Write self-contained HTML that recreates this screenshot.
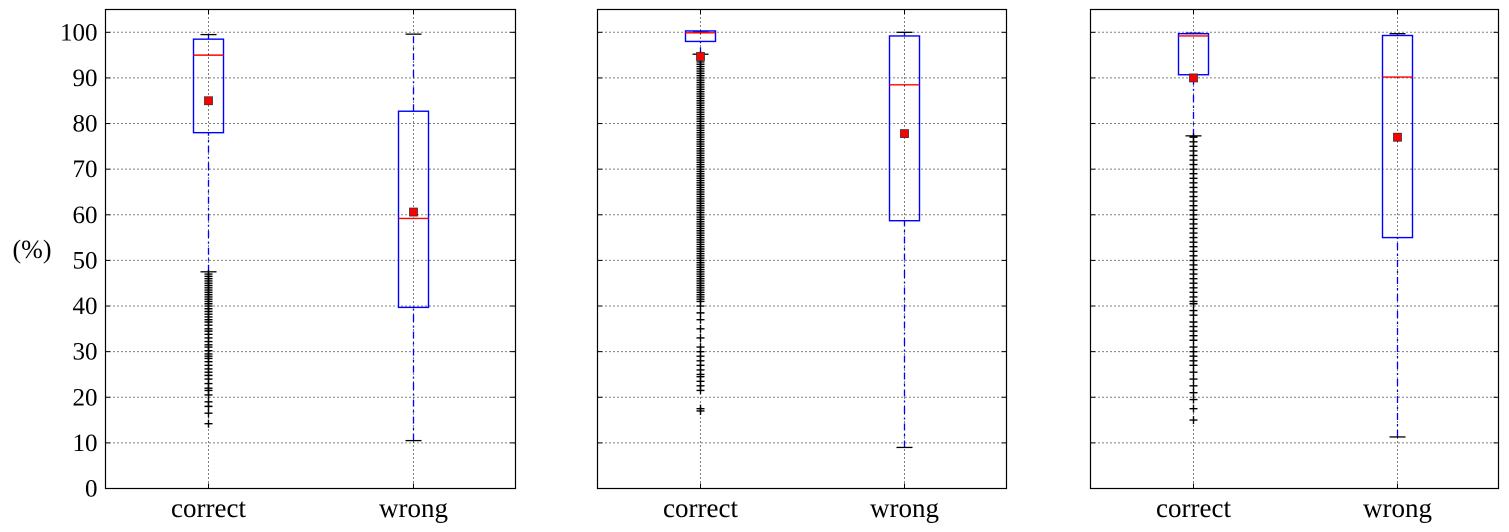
<!DOCTYPE html>
<html><head><meta charset="utf-8"><style>
html,body{margin:0;padding:0;background:#fff;}
svg{display:block;font-family:"Liberation Serif",serif;}
</style></head><body>
<svg id="chart" width="1509" height="532" viewBox="0 0 1509 532" xmlns="http://www.w3.org/2000/svg"></svg>
<script>
const categories = ["correct","wrong"];
const yTicks = [0,10,20,30,40,50,60,70,80,90,100];
// per panel: [whiskerLow, q1, median, q3, whiskerHigh, mean]
const panel1Stats = [[47.5,78,95,98.5,99.5,85],[10.5,39.7,59.2,82.7,99.6,60.6]];
const panel2Stats = [[95.2,98,99.9,100.3,100,94.7],[9,58.7,88.5,99.2,100,77.8]];
const panel3Stats = [[77.3,90.7,99.2,99.7,99.8,90],[11.3,55,90.2,99.3,99.7,77]];
const panel1Outliers = [14.2,16.5,18,19,20.5,21.5,22,23,24,24.8,25.5,26.2,27,27.8,28.5,29,29.5,30.2,31,31.5,32.2,33,33.8,34.5,35,35.8,36.5,37,37.6,38.2,38.8,39.4,40,40.5,41,41.5,42,42.5,43,43.5,44,44.5,45,45.5,46,46.5,47];
const panel2Outliers = [17,17.5,21.5,22.5,23.5,24.5,25,26,27,28,29,30,31,33,35,37,38.5,40,41,41.5,42,42.5,43,43.5,44,44.5,45,45.5,46,46.5,47,47.5,48,48.5,49,49.5,50,50.5,51,51.5,52,52.5,53,53.5,54,54.5,55,55.5,56,56.5,57,57.5,58,58.5,59,59.5,60,60.5,61,61.5,62,62.5,63,63.5,64,64.5,65,65.5,66,66.5,67,67.5,68,68.5,69,69.5,70,70.5,71,71.5,72,72.5,73,73.5,74,74.5,75,75.5,76,76.5,77,77.5,78,78.5,79,79.5,80,80.5,81,81.5,82,82.5,83,83.5,84,84.5,85,85.5,86,86.5,87,87.5,88,88.5,89,89.5,90,90.5,91,91.5,92,92.5,93,93.5,94,94.5,95];
const panel3Outliers = [15,17.5,19.5,21,22.5,24,25.5,27,28,29,30,31,32.5,33.5,34.5,35.5,36.5,38,39,40.5,41,42,43,44,45,46,47,48,49,50,51,52,53,54,55,56,57,58,59,60,61,62,63,64,65,66,67,68,69,70,71,72,73,74,75,76,77];

const NS="http://www.w3.org/2000/svg";
const svg=document.getElementById('chart');
function mk(tag,attrs,parent){const e=document.createElementNS(NS,tag);for(const k in attrs)e.setAttribute(k,attrs[k]);(parent||svg).appendChild(e);return e;}
const plotTop=9.5, plotBottom=488.5, ymax=105;
function y(v){return plotBottom-(v/ymax)*(plotBottom-plotTop);}
const panels=[{x0:105.5,x1:515.5,stats:panel1Stats,out:panel1Outliers},
{x0:597.5,x1:1006.5,stats:panel2Stats,out:panel2Outliers},
{x0:1090.5,x1:1498.5,stats:panel3Stats,out:panel3Outliers}];
panels.forEach((p,pi)=>{
  const g=mk('g',{});
  
  
  const w=p.x1-p.x0;
  function x(i){return Math.round(p.x0+w*(0.25+0.5*i))+0.5;}
  yTicks.forEach(t=>{
    const l=mk('line',{x1:p.x0,x2:p.x1,y1:y(t),y2:y(t),stroke:'#000','stroke-width':1,'stroke-dasharray':'1,3'},g);
    
    
    mk('line',{x1:p.x0,x2:p.x0+5,y1:y(t),y2:y(t),stroke:'#000'},g);
    mk('line',{x1:p.x1-5,x2:p.x1,y1:y(t),y2:y(t),stroke:'#000'},g);
    if(pi===0){const tx=mk('text',{x:p.x0-8,y:y(t)+8,'text-anchor':'end','font-size':25},g);tx.textContent=t;
      
      }
  });
  categories.forEach((c,i)=>{
    const cx=x(i);
    mk('line',{x1:cx,x2:cx,y1:plotTop,y2:plotBottom,stroke:'#000','stroke-width':1,'stroke-dasharray':'1,3'},g);
    mk('line',{x1:cx,x2:cx,y1:plotTop,y2:plotTop+5,stroke:'#000'},g);
    mk('line',{x1:cx,x2:cx,y1:plotBottom-5,y2:plotBottom,stroke:'#000'},g);
    const lab=mk('text',{x:cx,y:517,'text-anchor':'middle','font-size':27},g);lab.textContent=c;
    
    
    const s=p.stats[i];
    const bw=15;
    mk('line',{x1:cx,x2:cx,y1:y(s[0]),y2:y(s[1]),stroke:'#00f','stroke-width':1.3,'stroke-dasharray':'7,4,2,4'},g);
    mk('line',{x1:cx,x2:cx,y1:y(s[3]),y2:y(s[4]),stroke:'#00f','stroke-width':1.3,'stroke-dasharray':'7,4,2,4'},g);
    mk('line',{x1:cx-8,x2:cx+8,y1:y(s[0]),y2:y(s[0]),stroke:'#000','stroke-width':1.3},g);
    mk('line',{x1:cx-8,x2:cx+8,y1:y(s[4]),y2:y(s[4]),stroke:'#000','stroke-width':1.3},g);
    const b=mk('rect',{x:cx-bw,y:Math.min(y(s[1]),y(s[3])),width:bw*2,height:Math.abs(y(s[1])-y(s[3])),fill:'none',stroke:'#00f','stroke-width':1.4},g);
    
    
    mk('line',{x1:cx-bw,x2:cx+bw,y1:y(s[2]),y2:y(s[2]),stroke:'#f00','stroke-width':1.4},g);
    if(i===0){p.out.forEach(v=>{
      const o=mk('path',{d:`M${cx-4},${y(v)}h8M${cx},${y(v)-4}v8`,stroke:'#000','stroke-width':1.4},g);
      
      
    });}
    const m=mk('rect',{x:cx-4,y:y(s[5])-4,width:8,height:8,fill:'#f00',stroke:'#333','stroke-width':0.8},g);
    
    
  });
  mk('rect',{x:p.x0,y:plotTop,width:w,height:plotBottom-plotTop,fill:'none',stroke:'#000','stroke-width':1.2},g);
});
const yl=mk('text',{x:32,y:258,'text-anchor':'middle','font-size':26});
yl.textContent='(%)';


</script>
</body></html>
